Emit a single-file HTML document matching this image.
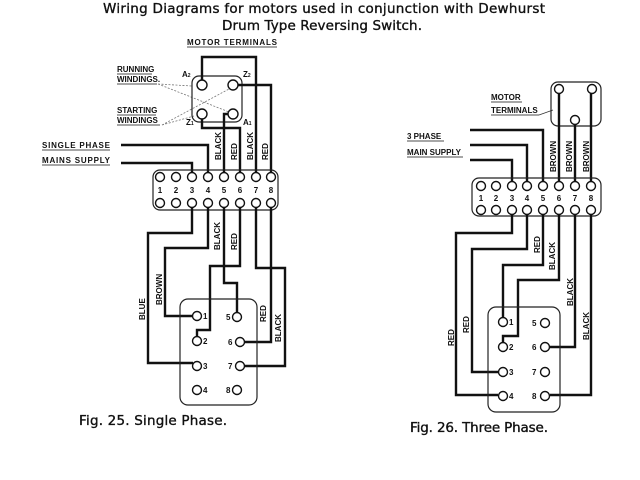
<!DOCTYPE html>
<html><head><meta charset="utf-8">
<style>
html,body{margin:0;padding:0;background:#fff;}
svg{display:block;}
.w{fill:none;stroke:#111;stroke-width:2.4;stroke-linejoin:miter;}
.b{fill:none;stroke:#222;stroke-width:1.2;}
.c{fill:#fff;stroke:#111;stroke-width:1.4;}
.l{font-family:"Liberation Sans",sans-serif;font-weight:bold;font-size:8px;fill:#111;}
.n{font-family:"Liberation Sans",sans-serif;font-weight:bold;font-size:8px;fill:#111;}
.t{font-family:"DejaVu Sans","Liberation Sans",sans-serif;font-size:13.5px;fill:#111;stroke:#111;stroke-width:0.35;}
.d{fill:none;stroke:#777;stroke-width:0.8;stroke-dasharray:2 1.5;}
</style></head><body>
<svg width="640" height="480" viewBox="0 0 640 480" xmlns="http://www.w3.org/2000/svg">
<rect width="640" height="480" fill="#fff"/>
<text class="t" x="324" y="13" text-anchor="middle" textLength="442">Wiring Diagrams for motors used in conjunction with Dewhurst</text>
<text class="t" x="322" y="30" text-anchor="middle" textLength="200">Drum Type Reversing Switch.</text>

<!-- ===== FIG 25 ===== -->
<text class="l" x="187" y="45" textLength="90">MOTOR TERMINALS</text>
<line x1="187" y1="47" x2="277" y2="47" stroke="#111" stroke-width="0.8"/>
<text class="l" x="117" y="72">RUNNING</text>
<text class="l" x="117" y="82">WINDINGS.</text>
<line x1="117" y1="74" x2="152" y2="74" stroke="#111" stroke-width="0.7"/>
<line x1="117" y1="84" x2="157" y2="84" stroke="#111" stroke-width="0.7"/>
<text class="l" x="117" y="113">STARTING</text>
<text class="l" x="117" y="123">WINDINGS</text>
<line x1="117" y1="115" x2="156" y2="115" stroke="#111" stroke-width="0.7"/>
<line x1="117" y1="125" x2="160" y2="125" stroke="#111" stroke-width="0.7"/>
<path class="d" d="M158 84 L192 86 M158 84 L229 112 M162 125 L194 116 M162 125 L229 89"/>
<rect class="b" x="192" y="76" width="50" height="46" rx="7"/>
<text class="l" x="182" y="77">A<tspan font-size="5">2</tspan></text>
<text class="l" x="243" y="77">Z<tspan font-size="5">2</tspan></text>
<text class="l" x="186" y="125">Z<tspan font-size="5">1</tspan></text>
<text class="l" x="243" y="125">A<tspan font-size="5">1</tspan></text>

<path class="w" d="M202 80 V57 H256 V172"/>
<path class="w" d="M238 85 H271 V172"/>
<path class="w" d="M202 119 V128 H240 V172"/>
<path class="w" d="M230 114 H224 V172"/>
<path class="w" d="M121 145 H208 V172"/>
<path class="w" d="M121 163 H192 V172"/>
<circle class="c" cx="202" cy="85" r="5"/>
<circle class="c" cx="233" cy="85" r="5"/>
<circle class="c" cx="202" cy="114" r="5"/>
<circle class="c" cx="233" cy="114" r="5"/>
<text class="l" x="42" y="148" textLength="68">SINGLE PHASE</text>
<line x1="42" y1="150" x2="110" y2="150" stroke="#111" stroke-width="0.7"/>
<text class="l" x="42" y="163" textLength="68">MAINS SUPPLY</text>
<line x1="42" y1="165" x2="110" y2="165" stroke="#111" stroke-width="0.7"/>
<text class="l" transform="translate(221,160) rotate(-90)">BLACK</text>
<text class="l" transform="translate(237,160) rotate(-90)">RED</text>
<text class="l" transform="translate(253,160) rotate(-90)">BLACK</text>
<text class="l" transform="translate(268,160) rotate(-90)">RED</text>

<rect class="b" x="153" y="170" width="125" height="40" rx="7"/>
<g>
<circle class="c" cx="160" cy="177" r="4.5"/><circle class="c" cx="176" cy="177" r="4.5"/><circle class="c" cx="192" cy="177" r="4.5"/><circle class="c" cx="208" cy="177" r="4.5"/><circle class="c" cx="224" cy="177" r="4.5"/><circle class="c" cx="240" cy="177" r="4.5"/><circle class="c" cx="256" cy="177" r="4.5"/><circle class="c" cx="271" cy="177" r="4.5"/>
<circle class="c" cx="160" cy="203" r="4.5"/><circle class="c" cx="176" cy="203" r="4.5"/><circle class="c" cx="192" cy="203" r="4.5"/><circle class="c" cx="208" cy="203" r="4.5"/><circle class="c" cx="224" cy="203" r="4.5"/><circle class="c" cx="240" cy="203" r="4.5"/><circle class="c" cx="256" cy="203" r="4.5"/><circle class="c" cx="271" cy="203" r="4.5"/>
</g>
<g class="n" text-anchor="middle">
<text x="160" y="193">1</text><text x="176" y="193">2</text><text x="192" y="193">3</text><text x="208" y="193">4</text><text x="224" y="193">5</text><text x="240" y="193">6</text><text x="256" y="193">7</text><text x="271" y="193">8</text>
</g>

<path class="w" d="M192 208 V233 H148 V363 H193"/>
<path class="w" d="M208 208 V248 H165 V316 H193"/>
<path class="w" d="M224 208 V283 H237 V312"/>
<path class="w" d="M240 208 V266 H210 V330 H197 V336"/>
<path class="w" d="M256 208 V268 H285 V366 H242"/>
<path class="w" d="M271 208 V342 H242"/>
<rect class="b" x="180" y="299" width="77" height="106" rx="8"/>
<circle class="c" cx="197" cy="316" r="4.5"/><circle class="c" cx="197" cy="341" r="4.5"/><circle class="c" cx="197" cy="366" r="4.5"/><circle class="c" cx="197" cy="390" r="4.5"/>
<circle class="c" cx="237" cy="317" r="4.5"/><circle class="c" cx="240" cy="342" r="4.5"/><circle class="c" cx="240" cy="366" r="4.5"/><circle class="c" cx="237" cy="390" r="4.5"/>
<g class="n">
<text x="203" y="319">1</text><text x="203" y="344">2</text><text x="203" y="369">3</text><text x="203" y="393">4</text>
<text x="226" y="320">5</text><text x="228" y="345">6</text><text x="228" y="369">7</text><text x="226" y="393">8</text>
</g>
<text class="l" transform="translate(145,320) rotate(-90)">BLUE</text>
<text class="l" transform="translate(162,305) rotate(-90)">BROWN</text>
<text class="l" transform="translate(220,250) rotate(-90)">BLACK</text>
<text class="l" transform="translate(237,250) rotate(-90)">RED</text>
<text class="l" transform="translate(266,322) rotate(-90)">RED</text>
<text class="l" transform="translate(281,342) rotate(-90)">BLACK</text>
<text class="t" x="79" y="425" textLength="148">Fig. 25.   Single Phase.</text>

<!-- ===== FIG 26 ===== -->
<text class="l" x="491" y="100">MOTOR</text>
<line x1="491" y1="102" x2="522" y2="102" stroke="#111" stroke-width="0.7"/>
<text class="l" x="491" y="113">TERMINALS</text>
<line x1="491" y1="115" x2="539" y2="115" stroke="#111" stroke-width="0.7"/>
<line x1="539" y1="115" x2="553" y2="110" stroke="#333" stroke-width="0.7"/>
<rect class="b" x="551" y="82" width="50" height="44" rx="7"/>
<path class="w" d="M559 93 V182"/>
<path class="w" d="M575 124 V182"/>
<path class="w" d="M591 93 V182"/>
<path class="w" d="M470 130 H543 V182"/>
<path class="w" d="M470 145 H527 V182"/>
<path class="w" d="M470 160 H512 V182"/>
<circle class="c" cx="559" cy="89" r="4.5"/><circle class="c" cx="592" cy="89" r="4.5"/><circle class="c" cx="575" cy="120" r="4.5"/>
<text class="l" x="407" y="139">3 PHASE</text>
<line x1="407" y1="141" x2="444" y2="141" stroke="#111" stroke-width="0.7"/>
<text class="l" x="407" y="155">MAIN SUPPLY</text>
<line x1="407" y1="157" x2="463" y2="157" stroke="#111" stroke-width="0.7"/>
<text class="l" transform="translate(556,172) rotate(-90)">BROWN</text>
<text class="l" transform="translate(572,172) rotate(-90)">BROWN</text>
<text class="l" transform="translate(589,172) rotate(-90)">BROWN</text>

<rect class="b" x="472" y="178" width="129" height="38" rx="7"/>
<g>
<circle class="c" cx="481" cy="186" r="4.5"/><circle class="c" cx="496" cy="186" r="4.5"/><circle class="c" cx="512" cy="186" r="4.5"/><circle class="c" cx="527" cy="186" r="4.5"/><circle class="c" cx="543" cy="186" r="4.5"/><circle class="c" cx="559" cy="186" r="4.5"/><circle class="c" cx="575" cy="186" r="4.5"/><circle class="c" cx="591" cy="186" r="4.5"/>
<circle class="c" cx="481" cy="210" r="4.5"/><circle class="c" cx="496" cy="210" r="4.5"/><circle class="c" cx="512" cy="210" r="4.5"/><circle class="c" cx="527" cy="210" r="4.5"/><circle class="c" cx="543" cy="210" r="4.5"/><circle class="c" cx="559" cy="210" r="4.5"/><circle class="c" cx="575" cy="210" r="4.5"/><circle class="c" cx="591" cy="210" r="4.5"/>
</g>
<g class="n" text-anchor="middle">
<text x="481" y="201">1</text><text x="496" y="201">2</text><text x="512" y="201">3</text><text x="527" y="201">4</text><text x="543" y="201">5</text><text x="559" y="201">6</text><text x="575" y="201">7</text><text x="591" y="201">8</text>
</g>

<path class="w" d="M512 215 V233 H456 V395 H498"/>
<path class="w" d="M527 215 V249 H472 V372 H498"/>
<path class="w" d="M543 215 V265 H503 V318"/>
<path class="w" d="M559 215 V280 H518 V336 H503 V342"/>
<path class="w" d="M575 215 V347 H550"/>
<path class="w" d="M591 215 V395 H550"/>
<rect class="b" x="488" y="307" width="72" height="105" rx="8"/>
<circle class="c" cx="503" cy="322" r="4.5"/><circle class="c" cx="503" cy="347" r="4.5"/><circle class="c" cx="503" cy="372" r="4.5"/><circle class="c" cx="503" cy="396" r="4.5"/>
<circle class="c" cx="545" cy="323" r="4.5"/><circle class="c" cx="545" cy="347" r="4.5"/><circle class="c" cx="545" cy="372" r="4.5"/><circle class="c" cx="545" cy="396" r="4.5"/>
<g class="n">
<text x="509" y="325">1</text><text x="509" y="350">2</text><text x="509" y="375">3</text><text x="509" y="399">4</text>
<text x="532" y="326">5</text><text x="532" y="350">6</text><text x="532" y="375">7</text><text x="532" y="399">8</text>
</g>
<text class="l" transform="translate(454,346) rotate(-90)">RED</text>
<text class="l" transform="translate(469,333) rotate(-90)">RED</text>
<text class="l" transform="translate(540,253) rotate(-90)">RED</text>
<text class="l" transform="translate(555,270) rotate(-90)">BLACK</text>
<text class="l" transform="translate(573,306) rotate(-90)">BLACK</text>
<text class="l" transform="translate(589,340) rotate(-90)">BLACK</text>
<text class="t" x="410" y="432" textLength="138">Fig. 26.   Three Phase.</text>
</svg>
</body></html>
